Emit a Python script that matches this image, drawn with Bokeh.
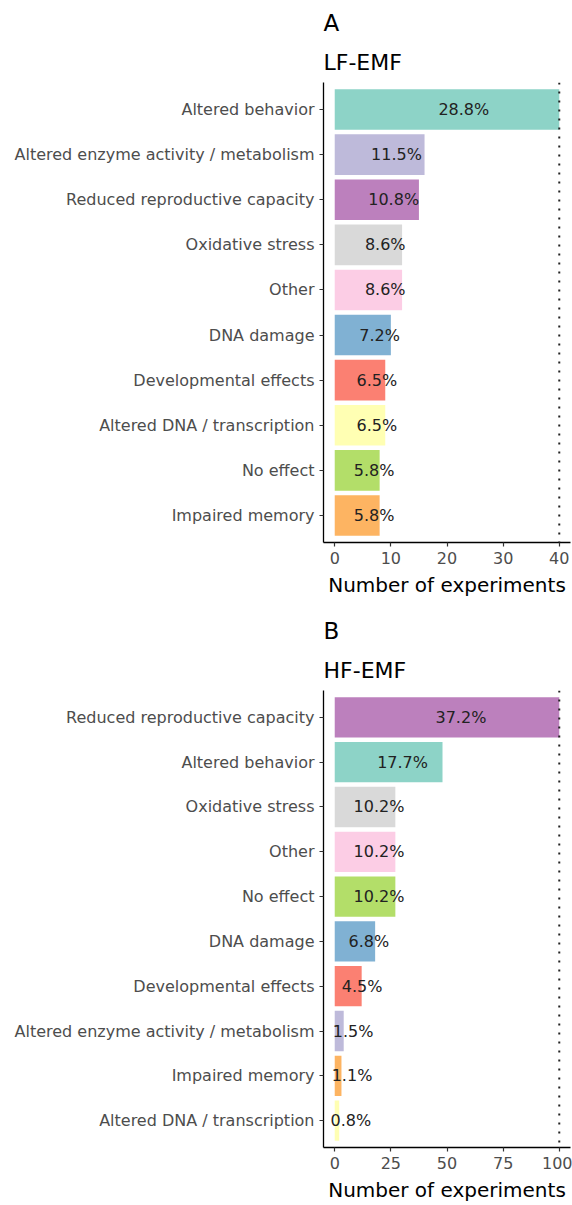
from bokeh.plotting import figure
from bokeh.models import Range1d, FactorRange, FixedTicker, Span, ColumnDataSource, Title
from bokeh.layouts import column
from bokeh.embed import file_html
from bokeh.resources import INLINE
from bokeh.core.properties import value

# ---- data ----
lf_categories = ["Altered behavior", "Altered enzyme activity / metabolism",
                 "Reduced reproductive capacity", "Oxidative stress", "Other",
                 "DNA damage", "Developmental effects", "Altered DNA / transcription",
                 "No effect", "Impaired memory"]
lf_counts = [40, 16, 15, 12, 12, 10, 9, 9, 8, 8]
lf_percent = ["28.8%", "11.5%", "10.8%", "8.6%", "8.6%", "7.2%", "6.5%", "6.5%", "5.8%", "5.8%"]

hf_categories = ["Reduced reproductive capacity", "Altered behavior", "Oxidative stress",
                 "Other", "No effect", "DNA damage", "Developmental effects",
                 "Altered enzyme activity / metabolism", "Impaired memory",
                 "Altered DNA / transcription"]
hf_counts = [100, 48, 27, 27, 27, 18, 12, 4, 3, 2]
hf_percent = ["37.2%", "17.7%", "10.2%", "10.2%", "10.2%", "6.8%", "4.5%", "1.5%", "1.1%", "0.8%"]

lf_ticks = [0, 10, 20, 30, 40]
hf_ticks = [0, 25, 50, 75, 100]

effect_names = ["Altered behavior", "Altered DNA / transcription",
                "Altered enzyme activity / metabolism", "Developmental effects",
                "DNA damage", "Impaired memory", "No effect", "Other",
                "Oxidative stress", "Reduced reproductive capacity"]
effect_palette = ["#8DD3C7", "#FFFFB3", "#BEBADA", "#FB8072", "#80B1D3",
                  "#FDB462", "#B3DE69", "#FCCDE5", "#D9D9D9", "#BC80BD"]
color_of = dict(zip(effect_names, effect_palette))

FONT = "DejaVu Sans"


def panel(tag, subtitle, cats, counts, pcts, ticks, label_offset, height, border_top, border_bottom):
    xmax = max(counts)
    src = ColumnDataSource(dict(
        cat=cats, n=counts, pct=pcts,
        color=[color_of[c] for c in cats],
        lx=[n / 2 + label_offset for n in counts],
    ))
    p = figure(width=572, height=height,
               y_range=FactorRange(factors=list(reversed(cats)), range_padding=0.1,
                                   range_padding_units="absolute"),
               x_range=Range1d(-0.05 * xmax, 1.05 * xmax),
               output_backend="svg", toolbar_location=None,
               min_border_left=323, min_border_right=2,
               min_border_top=border_top, min_border_bottom=border_bottom)
    p.hbar(y="cat", left=0, right="n", height=0.9, fill_color="color",
           line_color=None, source=src)
    p.add_layout(Span(location=xmax, dimension="height", line_dash="2 7",
                      line_width=2, line_color="#222222"))
    p.text(x="lx", y="cat", text="pct", source=src, text_align="center",
           text_baseline="middle", text_font_size="16px", text_font=value(FONT),
           text_color="#222222")

    # outer title: panel tag
    p.title.text = tag
    p.title.align = "left"
    p.title.text_font = FONT
    p.title.text_font_size = "23px"
    p.title.text_font_style = "normal"
    p.title.text_color = "black"
    p.title.standoff = 8
    # inner title: exposure type
    p.add_layout(Title(text=subtitle, align="left", text_font=FONT, text_font_size="22px",
                       text_font_style="normal", text_color="black", standoff=16), "above")

    p.xaxis.ticker = FixedTicker(ticks=ticks)
    p.xaxis.axis_label = "Number of experiments"
    p.xaxis.axis_label_text_font = FONT
    p.xaxis.axis_label_text_font_size = "20px"
    p.xaxis.axis_label_text_font_style = "normal"
    p.xaxis.axis_label_text_color = "black"
    p.xaxis.axis_label_standoff = 6
    p.xaxis.major_label_standoff = 5
    p.yaxis.major_label_standoff = 5
    for ax in (p.xaxis[0], p.yaxis[0]):
        ax.major_label_text_font = FONT
        ax.major_label_text_font_size = "16px"
        ax.major_label_text_color = "#4D4D4D"
        ax.major_tick_out = 4
        ax.major_tick_in = 0
        ax.minor_tick_out = 0
        ax.minor_tick_in = 0
        ax.axis_line_color = "black"
        ax.axis_line_width = 1.3
        ax.major_tick_line_color = "#333333"
        ax.major_tick_line_width = 1.2
    p.grid.visible = False
    p.outline_line_color = None
    p.background_fill_color = "white"
    p.border_fill_color = "white"
    return p


pA = panel("A", "LF-EMF", lf_categories, lf_counts, lf_percent, lf_ticks, 3.0,
           height=607, border_top=82, border_bottom=65)
pB = panel("B", "HF-EMF", hf_categories, hf_counts, hf_percent, hf_ticks, 6.2,
           height=597, border_top=83, border_bottom=54)

layout = column(pA, pB)
open("out.html", "w").write(file_html(layout, INLINE))
